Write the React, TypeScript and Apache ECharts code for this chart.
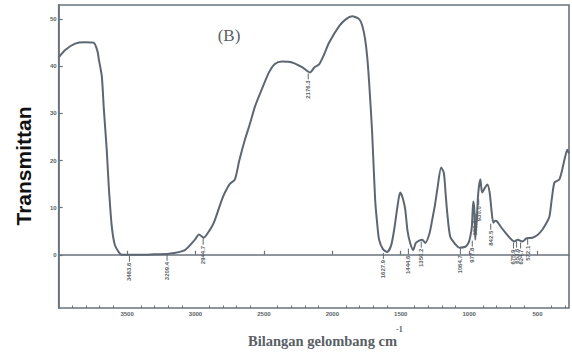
import React, { useEffect, useRef } from "react";
import * as echarts from "echarts";

// Spectrum (wavenumber cm-1, transmittance)
const wavenumbers = [
  4000, 3950, 3880, 3810, 3744, 3715, 3707, 3685, 3670, 3649, 3634, 3612, 3590, 3560, 3539, 3400, 3300, 3195,
  3078, 3004, 2975, 2950, 2939, 2920, 2880, 2858, 2807, 2785, 2750, 2712, 2680, 2638, 2600, 2565, 2510, 2463,
  2420, 2368, 2294, 2221, 2163, 2130, 2097, 2060, 2024, 1950, 1900, 1855, 1804, 1780, 1760, 1745, 1731, 1709,
  1687, 1670, 1658, 1630, 1599, 1570, 1548, 1525, 1504, 1485, 1467, 1450, 1431, 1409, 1390, 1365, 1343, 1320,
  1290, 1270, 1250, 1233, 1204, 1185, 1172, 1160, 1138, 1100, 1072, 1028, 1005, 992, 980, 970, 962, 955, 945,
  933, 918, 905, 885, 867, 850, 835, 823, 810, 794, 770, 735, 700, 669, 645, 611, 580, 538, 500, 465, 430, 413,
  395, 377, 355, 340, 320, 303, 282, 270,
];
const transmittance = [
  41.9, 43.5, 44.8, 45.1, 45.0, 43, 41.5, 37.9, 30.9, 22.3, 14.5, 6, 2.1, 0.5, 0, 0, 0.1, 0.2,
  1, 3.2, 4.3, 3.8, 3.6, 4.2, 6, 7.4, 11.7, 13.2, 15, 16, 20, 24.5, 28, 31.5, 35.5, 38.7,
  40.5, 41, 40.8, 39.8, 38.7, 39.8, 40.4, 42.5, 45, 48.5, 50, 50.6, 50, 48.5, 45.7, 42, 36.6, 26,
  11.7, 6, 3.2, 1.2, 0.6, 2, 5.3, 10, 13.2, 12, 9.6, 5, 2.5, 1, 2.5, 3, 3.2, 2.5,
  4.5, 7.4, 10.5, 13.8, 18.5, 17.4, 13, 8.9, 3.8, 2.2, 1.5, 1.7, 2.5, 3.8, 6, 11.3, 9.6, 3.2, 7,
  13.2, 16, 13.2, 14.2, 14.9, 13.2, 9, 6.8, 7.2, 7, 6, 4.7, 3.5, 2.8, 3.2, 2.8, 3.5, 3.6, 4.2, 5.3, 7, 8.1,
  12, 15.3, 15.7, 16, 18, 20.2, 22.3, 21.5,
];

// Peak annotations
const peakWn = [3483, 3208, 2944, 2176, 1627, 1444, 1350, 1064, 977, 956, 930, 842, 676, 653, 624, 572];
const peakT = [0, 0.2, 3.6, 38.7, 0.6, 1.5, 3.0, 1.6, 3.2, 9.0, 12.0, 6.8, 2.8, 3.0, 2.8, 3.6];
const peakLabels = [
  "3483.6", "3209.4", "2944.7", "2176.3", "1627.9", "1444.6", "1350.2", "1064.7",
  "977.8", "956.2", "930.0", "842.5", "675.9", "653.6", "624.7", "572.1",
];

// Axis ticks
const xMajorTicks = [3500, 3000, 2500, 2000, 1500, 1000, 500];
const xMinorTicks = [
  3900, 3800, 3700, 3600, 3400, 3300, 3200, 3100, 2900, 2800, 2700, 2600, 2400, 2300, 2200, 2100,
  1900, 1800, 1700, 1600, 1400, 1300, 1200, 1100, 900, 800, 700, 600, 400, 300,
];
const yTicks = [0, 10, 20, 30, 40, 50];

const LINE = "#5d6772";
const FRAME = "#6a727b";
const TXT = "#5a5f66";

export default function App() {
  const ref = useRef<HTMLDivElement>(null);
  useEffect(() => {
    if (!ref.current) return;
    const chart = echarts.init(ref.current, null, { renderer: "svg" });
    const lineData = wavenumbers.map((w, i) => [w, transmittance[i]]);
    const peakData = peakWn.map((w, i) => [w, peakT[i]]);
    const xCommon = {
      type: "value",
      inverse: true,
      min: 270,
      max: 4000,
      position: "bottom",
      splitLine: { show: false },
    };
    chart.setOption({
      animation: false,
      backgroundColor: "#fff",
      grid: {
        left: 58.7,
        right: 3,
        top: 5,
        bottom: 50,
        show: true,
        borderColor: FRAME,
        borderWidth: 1.6,
        containLabel: false,
      },
      xAxis: [
        {
          ...xCommon,
          axisLine: { show: true, lineStyle: { color: FRAME, width: 1.6 } },
          axisTick: {
            show: true,
            inside: true,
            length: 4,
            customValues: xMajorTicks,
            lineStyle: { color: FRAME, width: 1.2 },
          },
          axisLabel: {
            customValues: xMajorTicks,
            formatter: (v: number) => String(v),
            fontSize: 6,
            color: TXT,
            margin: 3,
            fontWeight: "bold",
            fontFamily: "Liberation Sans",
          },
        },
        {
          ...xCommon,
          axisLine: { show: false },
          axisTick: {
            show: true,
            inside: true,
            length: 2.5,
            customValues: xMinorTicks,
            lineStyle: { color: FRAME, width: 1 },
          },
          axisLabel: { show: false },
        },
      ],
      yAxis: {
        type: "value",
        min: -11.3,
        max: 53,
        splitLine: { show: false },
        axisLine: { show: true, lineStyle: { color: FRAME, width: 1.6 } },
        axisTick: {
          show: true,
          inside: true,
          length: 4,
          customValues: yTicks,
          lineStyle: { color: FRAME, width: 1.2 },
        },
        axisLabel: {
          customValues: yTicks,
          formatter: (v: number) => String(v),
          fontSize: 6,
          color: TXT,
          margin: 2,
          fontWeight: "bold",
          fontFamily: "Liberation Sans",
        },
      },
      series: [
        {
          type: "line",
          xAxisIndex: 0,
          data: lineData,
          showSymbol: false,
          smooth: 0.25,
          lineStyle: { color: LINE, width: 2 },
          z: 3,
        },
        {
          type: "custom",
          xAxisIndex: 0,
          data: peakData,
          renderItem: (params: any, api: any) => {
            const p = api.coord([api.value(0), api.value(1)]);
            const label = peakLabels[params.dataIndex];
            return {
              type: "group",
              children: [
                {
                  type: "line",
                  shape: { x1: p[0], y1: p[1] + 1, x2: p[0], y2: p[1] + 7 },
                  style: { stroke: LINE, lineWidth: 1 },
                },
                {
                  type: "text",
                  x: p[0],
                  y: p[1] + 8,
                  rotation: Math.PI / 2,
                  style: {
                    text: label,
                    fontSize: 6,
                    fill: TXT,
                    align: "right",
                    verticalAlign: "middle",
                    fontFamily: "Liberation Sans",
                    fontWeight: "bold",
                  },
                },
              ],
            };
          },
          z: 4,
        },
      ],
      graphic: [
        {
          type: "text",
          x: 23,
          y: 166,
          rotation: Math.PI / 2,
          style: {
            text: "Transmittan",
            fontSize: 21,
            fontWeight: "bold",
            fontFamily: "Liberation Sans",
            fill: "#111",
            align: "center",
            verticalAlign: "middle",
          },
        },
        {
          type: "text",
          x: 229,
          y: 35,
          style: {
            text: "(B)",
            fontSize: 17,
            fontFamily: "Liberation Serif",
            fill: TXT,
            align: "center",
            verticalAlign: "middle",
          },
        },
        {
          type: "text",
          x: 248,
          y: 341,
          style: {
            text: "Bilangan gelombang cm",
            fontSize: 14.5,
            fontFamily: "Liberation Serif",
            fontWeight: "bold",
            fill: TXT,
            align: "left",
            verticalAlign: "middle",
          },
        },
        {
          type: "text",
          x: 396,
          y: 329,
          style: {
            text: "-1",
            fontSize: 8,
            fontFamily: "Liberation Serif",
            fontWeight: "bold",
            fill: TXT,
            align: "left",
            verticalAlign: "middle",
          },
        },
      ],
    });
    return () => chart.dispose();
  }, []);
  return (
    <div
      ref={ref}
      style={{ position: "fixed", left: 0, top: 0, width: 572, height: 358, background: "#fff" }}
    />
  );
}
